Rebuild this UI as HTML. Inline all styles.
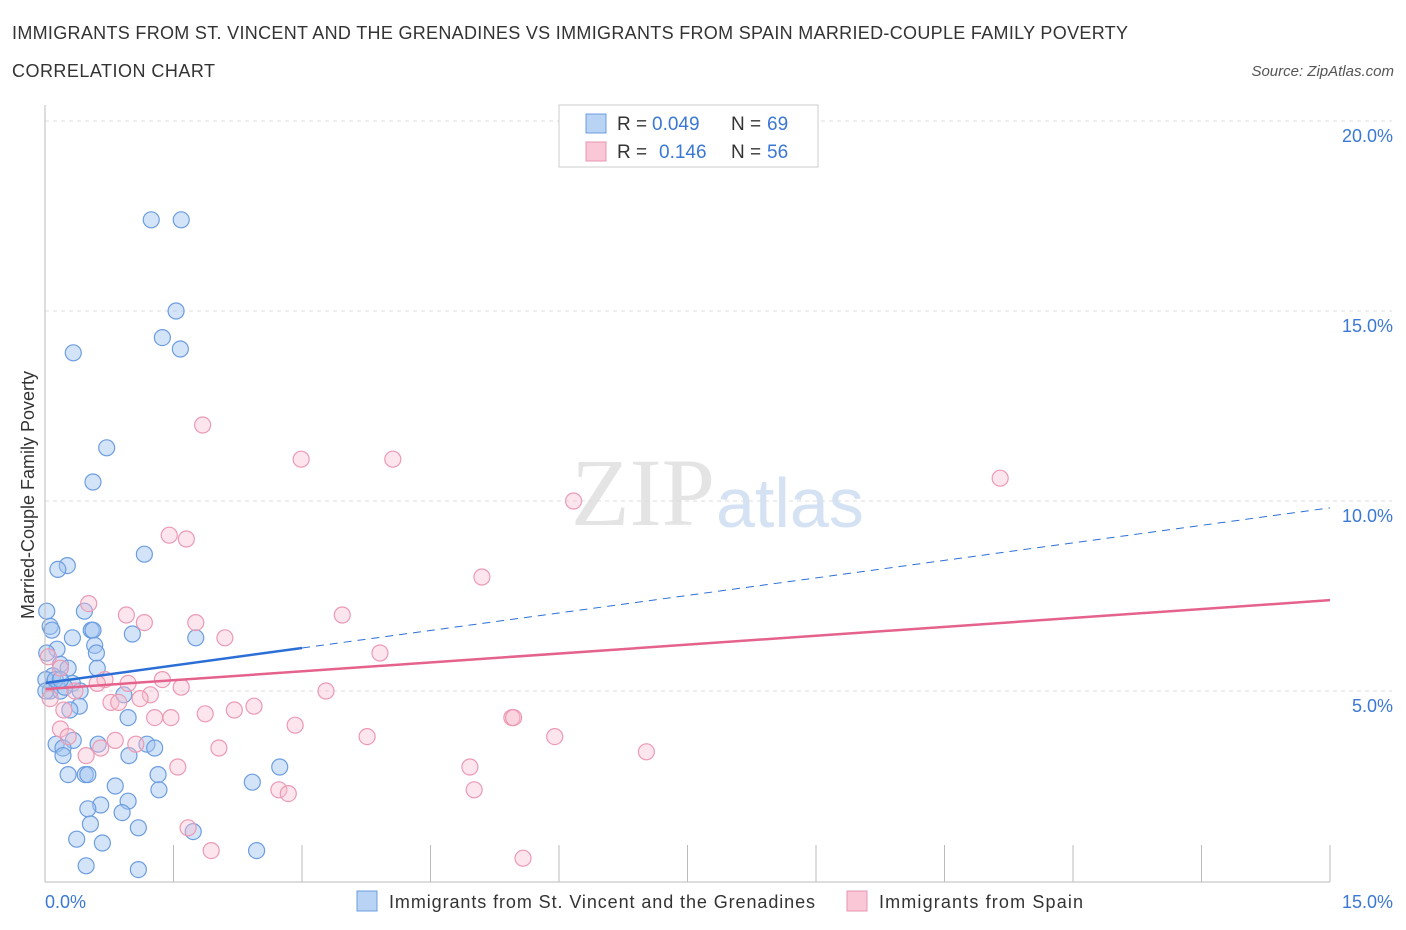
<!DOCTYPE html>
<html><head><meta charset="utf-8"><style>
body{margin:0;background:#fff;font-family:"Liberation Sans",sans-serif;}
#wrap{position:relative;width:1406px;height:930px;overflow:hidden;}
</style></head><body>
<div id="wrap">
<svg id="svg" width="1406" height="930" xmlns="http://www.w3.org/2000/svg">
<text x="12" y="39" font-size="18" fill="#333" textLength="1116">IMMIGRANTS FROM ST. VINCENT AND THE GRENADINES VS IMMIGRANTS FROM SPAIN MARRIED-COUPLE FAMILY POVERTY</text>
<text x="12" y="77" font-size="18" fill="#333" textLength="203">CORRELATION CHART</text>
<text x="1394" y="76" font-size="15" fill="#555" font-style="italic" text-anchor="end">Source: ZipAtlas.com</text>
<text x="715" y="525" font-size="96" fill="#e4e4e4" font-family="Liberation Serif" text-anchor="end">ZIP</text>
<text x="716" y="527" font-size="70" fill="#d4e2f3">atlas</text>
<text transform="translate(34,495) rotate(-90)" font-size="18" fill="#333" text-anchor="middle">Married-Couple Family Poverty</text>
<g id="grid"></g><g id="pts"></g><g id="lines"></g>
<line x1="45" y1="105" x2="45" y2="882" stroke="#bbb"/>
<line x1="45" y1="882" x2="1330" y2="882" stroke="#bbb"/>
<text x="45" y="908" font-size="18" fill="#3a78d4">0.0%</text>
<text x="1393" y="908" font-size="18" fill="#3a78d4" text-anchor="end">15.0%</text>
<g>
<rect x="559" y="105" width="259" height="62" fill="#fff" stroke="#ccc"/>
<rect x="586" y="114" width="20" height="19" fill="#b9d3f5" stroke="#6c9de0"/>
<rect x="586" y="142" width="20" height="19" fill="#f9c7d5" stroke="#e996b0"/>
<text x="617" y="130" font-size="19" fill="#333">R =</text>
<text x="652" y="130" font-size="19" fill="#3a78d4">0.049</text>
<text x="731" y="130" font-size="19" fill="#333">N =</text>
<text x="767" y="130" font-size="19" fill="#3a78d4">69</text>
<text x="617" y="158" font-size="19" fill="#333">R =</text>
<text x="659" y="158" font-size="19" fill="#3a78d4">0.146</text>
<text x="731" y="158" font-size="19" fill="#333">N =</text>
<text x="767" y="158" font-size="19" fill="#3a78d4">56</text>
</g>
<g>
<rect x="357" y="891" width="20" height="20" fill="#b9d3f5" stroke="#6c9de0"/>
<text x="389" y="908" font-size="18" fill="#333" textLength="426">Immigrants from St. Vincent and the Grenadines</text>
<rect x="847" y="891" width="20" height="20" fill="#f9c7d5" stroke="#e996b0"/>
<text x="879" y="908" font-size="18" fill="#333" textLength="204">Immigrants from Spain</text>
</g>
</svg>
</div>
<script>
const yTicks=[5,10,15,20];
const yTickLabels=["5.0%","10.0%","15.0%","20.0%"];
const xTicks=[1.5,3,4.5,6,7.5,9,10.5,12,13.5,15];
const blueX=[1.24,1.59,1.53,1.37,1.58,0.33,0.72,0.56,1.16,0.26,0.15,0.02,0.46,0.06,0.08,0.54,0.56,0.32,1.02,1.76,0.14,0.58,0.60,0.18,0.27,0.61,0.09,0.01,0.32,0.06,0.18,0.23,0.41,0.92,0.40,0.29,0.97,0.33,0.13,0.21,0.62,1.19,1.28,0.21,0.98,0.47,0.27,0.50,1.32,2.74,2.42,0.82,1.33,0.97,0.65,0.50,0.90,0.53,1.09,1.73,0.37,0.67,0.48,1.09,2.47,0.01,0.12,0.18,0.02];
const blueY=[17.4,17.4,15.0,14.3,14.0,13.9,11.4,10.5,8.6,8.3,8.2,7.1,7.1,6.7,6.6,6.6,6.6,6.4,6.5,6.4,6.1,6.2,6.0,5.7,5.6,5.6,5.4,5.3,5.2,5.0,5.0,5.1,5.0,4.9,4.6,4.5,4.3,3.7,3.6,3.5,3.6,3.6,3.5,3.3,3.3,2.8,2.8,2.8,2.8,3.0,2.6,2.5,2.4,2.1,2.0,1.9,1.8,1.5,1.4,1.3,1.1,1.0,0.4,0.3,0.8,5.0,5.3,5.3,6.0];
const pinkX=[1.84,2.99,4.06,6.17,11.15,1.45,1.65,5.10,0.51,0.95,1.16,1.76,3.47,2.10,3.91,0.04,0.18,0.70,1.37,0.61,0.35,1.59,3.28,1.23,0.97,1.11,0.77,0.86,1.87,2.21,2.44,1.47,2.92,0.22,0.18,1.28,0.82,1.06,0.27,3.76,5.45,5.47,5.95,7.02,2.03,1.55,4.96,2.73,2.84,5.01,1.67,1.94,5.58,0.06,0.48,0.65];
const pinkY=[12.0,11.1,11.1,10.0,10.6,9.1,9.0,8.0,7.3,7.0,6.8,6.8,7.0,6.4,6.0,5.9,5.6,5.3,5.3,5.2,5.0,5.1,5.0,4.9,5.2,4.8,4.7,4.7,4.4,4.5,4.6,4.3,4.1,4.5,4.0,4.3,3.7,3.6,3.8,3.8,4.3,4.3,3.8,3.4,3.5,3.0,3.0,2.4,2.3,2.4,1.4,0.8,0.6,4.8,3.3,3.5];
const blueFit=[5.21,9.82];
const pinkFit=[5.05,7.39];
const NS="http://www.w3.org/2000/svg";
function sx(v){return 45+v/15*1285;}
function sy(v){return 881-v/5*190;}
function mk(tag,attrs,parent){const e=document.createElementNS(NS,tag);for(const k in attrs)e.setAttribute(k,attrs[k]);parent.appendChild(e);return e;}
const grid=document.getElementById('grid');
yTicks.forEach((t,i)=>{
  const l=mk('line',{x1:45,x2:1392,y1:sy(t),y2:sy(t),stroke:'#ddd','stroke-dasharray':'4,4'},grid);
  
  
  const tx=mk('text',{x:1393,y:sy(t)+21,'font-size':18,fill:'#3a78d4','text-anchor':'end'},grid);
  tx.textContent=yTickLabels[i];
  
  
});
xTicks.forEach(t=>{
  const l=mk('line',{x1:sx(t),x2:sx(t),y1:845,y2:882,stroke:'#bbb'},grid);
  
  
});
const pts=document.getElementById('pts');
blueX.forEach((x,i)=>{
  const c=mk('circle',{cx:sx(x),cy:sy(blueY[i]),r:8,fill:'rgba(160,196,240,0.45)',stroke:'#6c9de0','stroke-width':1.2},pts);
  
  
});
pinkX.forEach((x,i)=>{
  const c=mk('circle',{cx:sx(x),cy:sy(pinkY[i]),r:8,fill:'rgba(248,190,208,0.4)',stroke:'#ec9ab3','stroke-width':1.2},pts);
  
  
});
const lines=document.getElementById('lines');
function fy(f,x){return f[0]+(f[1]-f[0])*x/15;}
let b1=mk('line',{x1:sx(0),y1:sy(fy(blueFit,0)),x2:sx(3),y2:sy(fy(blueFit,3)),stroke:'#2b6fd6','stroke-width':2.5},lines);


let b2=mk('line',{x1:sx(3),y1:sy(fy(blueFit,3)),x2:sx(15),y2:sy(fy(blueFit,15)),stroke:'#2b6fd6','stroke-width':1,'stroke-dasharray':'8,6'},lines);


let p1=mk('line',{x1:sx(0),y1:sy(fy(pinkFit,0)),x2:sx(15),y2:sy(fy(pinkFit,15)),stroke:'#e5628c','stroke-width':2.5},lines);


</script>
</body></html>
